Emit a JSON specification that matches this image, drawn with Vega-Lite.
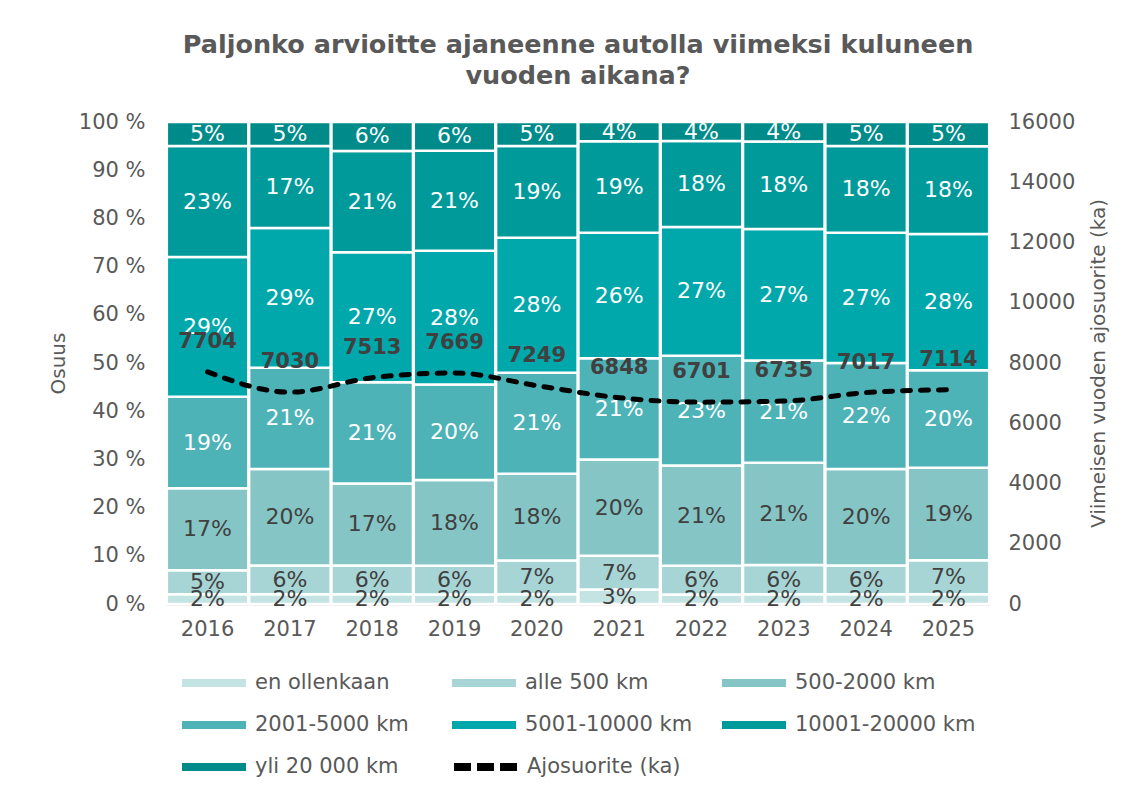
{
  "$schema": "https://vega.github.io/schema/vega-lite/v6.json",
  "width": 824,
  "height": 482,
  "autosize": {"type": "none"},
  "padding": {"left": 166, "top": 122, "right": 155, "bottom": 190},
  "background": "white",
  "config": {"view": {"stroke": null}, "font": "DejaVu Sans"},
  "title": {
    "text": ["Paljonko arvioitte ajaneenne autolla viimeksi kuluneen", "vuoden aikana?"],
    "fontSize": 25.5,
    "fontWeight": "bold",
    "color": "#595959",
    "lineHeight": 31,
    "offset": 22,
    "anchor": "middle",
    "frame": "group"
  },
  "datasets": {
    "shares": [
      {"year": "2016", "cat": "en ollenkaan", "k": 1, "pct": 2},
      {"year": "2016", "cat": "alle 500 km", "k": 2, "pct": 5},
      {"year": "2016", "cat": "500-2000 km", "k": 3, "pct": 17},
      {"year": "2016", "cat": "2001-5000 km", "k": 4, "pct": 19},
      {"year": "2016", "cat": "5001-10000 km", "k": 5, "pct": 29},
      {"year": "2016", "cat": "10001-20000 km", "k": 6, "pct": 23},
      {"year": "2016", "cat": "yli 20 000 km", "k": 7, "pct": 5},
      {"year": "2017", "cat": "en ollenkaan", "k": 1, "pct": 2},
      {"year": "2017", "cat": "alle 500 km", "k": 2, "pct": 6},
      {"year": "2017", "cat": "500-2000 km", "k": 3, "pct": 20},
      {"year": "2017", "cat": "2001-5000 km", "k": 4, "pct": 21},
      {"year": "2017", "cat": "5001-10000 km", "k": 5, "pct": 29},
      {"year": "2017", "cat": "10001-20000 km", "k": 6, "pct": 17},
      {"year": "2017", "cat": "yli 20 000 km", "k": 7, "pct": 5},
      {"year": "2018", "cat": "en ollenkaan", "k": 1, "pct": 2},
      {"year": "2018", "cat": "alle 500 km", "k": 2, "pct": 6},
      {"year": "2018", "cat": "500-2000 km", "k": 3, "pct": 17},
      {"year": "2018", "cat": "2001-5000 km", "k": 4, "pct": 21},
      {"year": "2018", "cat": "5001-10000 km", "k": 5, "pct": 27},
      {"year": "2018", "cat": "10001-20000 km", "k": 6, "pct": 21},
      {"year": "2018", "cat": "yli 20 000 km", "k": 7, "pct": 6},
      {"year": "2019", "cat": "en ollenkaan", "k": 1, "pct": 2},
      {"year": "2019", "cat": "alle 500 km", "k": 2, "pct": 6},
      {"year": "2019", "cat": "500-2000 km", "k": 3, "pct": 18},
      {"year": "2019", "cat": "2001-5000 km", "k": 4, "pct": 20},
      {"year": "2019", "cat": "5001-10000 km", "k": 5, "pct": 28},
      {"year": "2019", "cat": "10001-20000 km", "k": 6, "pct": 21},
      {"year": "2019", "cat": "yli 20 000 km", "k": 7, "pct": 6},
      {"year": "2020", "cat": "en ollenkaan", "k": 1, "pct": 2},
      {"year": "2020", "cat": "alle 500 km", "k": 2, "pct": 7},
      {"year": "2020", "cat": "500-2000 km", "k": 3, "pct": 18},
      {"year": "2020", "cat": "2001-5000 km", "k": 4, "pct": 21},
      {"year": "2020", "cat": "5001-10000 km", "k": 5, "pct": 28},
      {"year": "2020", "cat": "10001-20000 km", "k": 6, "pct": 19},
      {"year": "2020", "cat": "yli 20 000 km", "k": 7, "pct": 5},
      {"year": "2021", "cat": "en ollenkaan", "k": 1, "pct": 3},
      {"year": "2021", "cat": "alle 500 km", "k": 2, "pct": 7},
      {"year": "2021", "cat": "500-2000 km", "k": 3, "pct": 20},
      {"year": "2021", "cat": "2001-5000 km", "k": 4, "pct": 21},
      {"year": "2021", "cat": "5001-10000 km", "k": 5, "pct": 26},
      {"year": "2021", "cat": "10001-20000 km", "k": 6, "pct": 19},
      {"year": "2021", "cat": "yli 20 000 km", "k": 7, "pct": 4},
      {"year": "2022", "cat": "en ollenkaan", "k": 1, "pct": 2},
      {"year": "2022", "cat": "alle 500 km", "k": 2, "pct": 6},
      {"year": "2022", "cat": "500-2000 km", "k": 3, "pct": 21},
      {"year": "2022", "cat": "2001-5000 km", "k": 4, "pct": 23},
      {"year": "2022", "cat": "5001-10000 km", "k": 5, "pct": 27},
      {"year": "2022", "cat": "10001-20000 km", "k": 6, "pct": 18},
      {"year": "2022", "cat": "yli 20 000 km", "k": 7, "pct": 4},
      {"year": "2023", "cat": "en ollenkaan", "k": 1, "pct": 2},
      {"year": "2023", "cat": "alle 500 km", "k": 2, "pct": 6},
      {"year": "2023", "cat": "500-2000 km", "k": 3, "pct": 21},
      {"year": "2023", "cat": "2001-5000 km", "k": 4, "pct": 21},
      {"year": "2023", "cat": "5001-10000 km", "k": 5, "pct": 27},
      {"year": "2023", "cat": "10001-20000 km", "k": 6, "pct": 18},
      {"year": "2023", "cat": "yli 20 000 km", "k": 7, "pct": 4},
      {"year": "2024", "cat": "en ollenkaan", "k": 1, "pct": 2},
      {"year": "2024", "cat": "alle 500 km", "k": 2, "pct": 6},
      {"year": "2024", "cat": "500-2000 km", "k": 3, "pct": 20},
      {"year": "2024", "cat": "2001-5000 km", "k": 4, "pct": 22},
      {"year": "2024", "cat": "5001-10000 km", "k": 5, "pct": 27},
      {"year": "2024", "cat": "10001-20000 km", "k": 6, "pct": 18},
      {"year": "2024", "cat": "yli 20 000 km", "k": 7, "pct": 5},
      {"year": "2025", "cat": "en ollenkaan", "k": 1, "pct": 2},
      {"year": "2025", "cat": "alle 500 km", "k": 2, "pct": 7},
      {"year": "2025", "cat": "500-2000 km", "k": 3, "pct": 19},
      {"year": "2025", "cat": "2001-5000 km", "k": 4, "pct": 20},
      {"year": "2025", "cat": "5001-10000 km", "k": 5, "pct": 28},
      {"year": "2025", "cat": "10001-20000 km", "k": 6, "pct": 18},
      {"year": "2025", "cat": "yli 20 000 km", "k": 7, "pct": 5}
    ],
    "km": [
      {"year": "2016", "km": 7704},
      {"year": "2017", "km": 7030},
      {"year": "2018", "km": 7513},
      {"year": "2019", "km": 7669},
      {"year": "2020", "km": 7249},
      {"year": "2021", "km": 6848},
      {"year": "2022", "km": 6701},
      {"year": "2023", "km": 6735},
      {"year": "2024", "km": 7017},
      {"year": "2025", "km": 7114}
    ]
  },
  "layer": [
    {
      "data": {"name": "shares"},
      "transform": [
        {"stack": "pct", "groupby": ["year"], "offset": "normalize", "sort": [{"field": "k", "order": "ascending"}], "as": ["y0", "y1"]},
        {"calculate": "(datum.y0 + datum.y1) / 2", "as": "mid"},
        {"calculate": "datum.pct + '%'", "as": "label"}
      ],
      "layer": [
        {
          "mark": {"type": "bar", "stroke": "white", "strokeWidth": 2.5},
          "encoding": {
            "x": {
              "field": "year", "type": "ordinal",
              "scale": {"paddingInner": 0.01, "paddingOuter": 0.01},
              "axis": {"title": null, "labelAngle": 0, "labelFontSize": 21, "labelColor": "#595959", "labelPadding": 14, "ticks": false, "domainColor": "#D9D9D9", "domainWidth": 2}
            },
            "y": {
              "field": "y0", "type": "quantitative", "title": "Osuus",
              "scale": {"domain": [0, 1]},
              "axis": {
                "values": [0, 0.1, 0.2, 0.3, 0.4, 0.5, 0.6, 0.7, 0.8, 0.9, 1],
                "labelExpr": "format(datum.value * 100, 'd') + ' %'",
                "grid": false, "ticks": false, "domain": false,
                "labelFontSize": 21, "labelColor": "#595959", "labelPadding": 21,
                "titleFontSize": 20, "titleFontWeight": "normal", "titleColor": "#595959", "titlePadding": 10
              }
            },
            "y2": {"field": "y1"},
            "color": {
              "field": "cat", "type": "nominal",
              "scale": {
                "domain": ["en ollenkaan", "alle 500 km", "500-2000 km", "2001-5000 km", "5001-10000 km", "10001-20000 km", "yli 20 000 km"],
                "range": ["#C4E3E3", "#A7D4D5", "#86C5C6", "#4DB3B7", "#00A8AB", "#009A9B", "#008B8B"]
              },
              "legend": {
                "orient": "none", "legendX": 16, "legendY": 529,
                "columns": 3, "direction": "horizontal", "title": null,
                "symbolType": "M-1,-0.125L1,-0.125L1,0.125L-1,0.125Z",
                "symbolSize": 4096, "symbolStrokeWidth": 0, "symbolOpacity": 1,
                "labelFontSize": 21, "labelColor": "#595959", "labelOffset": 9, "labelLimit": 300,
                "columnPadding": 16, "rowPadding": -22, "gridAlign": "all", "padding": 0
              }
            },
            "order": {"field": "k"}
          }
        },
        {
          "mark": {"type": "text", "fontSize": 22, "baseline": "middle"},
          "encoding": {
            "x": {"field": "year", "type": "ordinal"},
            "y": {"field": "mid", "type": "quantitative", "title": "Osuus"},
            "text": {"field": "label"},
            "color": {"condition": {"test": "datum.k <= 3", "value": "#404040"}, "value": "#FFFFFF"}
          }
        }
      ]
    },
    {
      "data": {"name": "km"},
      "layer": [
        {
          "mark": {"type": "line", "strokeWidth": 5, "strokeCap": "round", "interpolate": "monotone"},
          "encoding": {
            "x": {"field": "year", "type": "ordinal"},
            "y": {
              "field": "km", "type": "quantitative", "title": "Viimeisen vuoden ajosuorite (ka)",
              "scale": {"domain": [0, 16000]},
              "axis": {
                "orient": "right",
                "values": [0, 2000, 4000, 6000, 8000, 10000, 12000, 14000, 16000],
                "format": "d",
                "grid": false, "ticks": false, "domain": false,
                "labelFontSize": 21, "labelColor": "#595959", "labelPadding": 18,
                "titleFontSize": 20, "titleFontWeight": "normal", "titleColor": "#595959", "titlePadding": 14,
                "titleAngle": 270, "titleBaseline": "top"
              }
            },
            "color": {
              "datum": "Ajosuorite (ka)", "type": "nominal",
              "scale": {"domain": ["Ajosuorite (ka)"], "range": ["#000000"]},
              "legend": {
                "orient": "none", "legendX": 284, "legendY": 609,
                "title": null, "symbolType": "stroke", "symbolSize": 4096,
                "symbolStrokeWidth": 8, "symbolDash": [17, 6],
                "labelFontSize": 21, "labelColor": "#595959", "labelOffset": 5, "labelLimit": 300, "padding": 0
              }
            },
            "strokeDash": {"value": [8, 10]}
          }
        },
        {
          "mark": {"type": "text", "fontSize": 21, "fontWeight": "bold", "color": "#404040", "dy": -30, "baseline": "middle"},
          "encoding": {
            "x": {"field": "year", "type": "ordinal"},
            "y": {"field": "km", "type": "quantitative", "title": "Viimeisen vuoden ajosuorite (ka)"},
            "text": {"field": "km", "type": "quantitative", "format": "d"}
          }
        }
      ]
    }
  ],
  "resolve": {"scale": {"y": "independent", "color": "independent"}}
}
